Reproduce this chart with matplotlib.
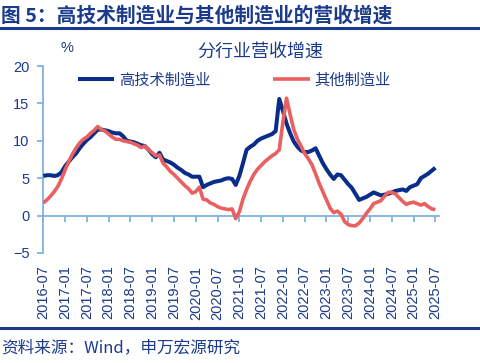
import numpy as np
import pandas as pd
import matplotlib
matplotlib.use("Agg")
import matplotlib.pyplot as plt

plt.rcParams['font.family'] = ['Noto Sans CJK SC', 'DejaVu Sans']

# ---- data ----
months = pd.date_range('2016-07-01', '2025-07-01', freq='MS').strftime('%Y-%m').tolist()

high_tech = [5.3, 5.4, 5.4, 5.3, 5.4, 5.8, 6.6, 7.2, 7.8, 8.3, 9.0, 9.6,
             10.1, 10.5, 11.0, 11.5, 11.5, 11.4, 11.3, 11.1, 11.0, 11.0, 10.6, 10.0,
             9.9, 9.8, 9.6, 9.4, 9.3, 8.8, 8.2, 7.8, 8.4, 7.5, 7.3, 7.1,
             6.8, 6.4, 6.1, 5.7, 5.5, 5.2, 5.2, 5.2, 3.8, 4.1, 4.3, 4.5,
             4.6, 4.7, 4.9, 5.0, 4.9, 4.1, 5.3, 7.0, 8.8, 9.2, 9.5, 10.0,
             10.3, 10.5, 10.7, 10.9, 11.3, 15.6, 14.0, 12.3, 11.0, 9.9, 9.2, 8.7,
             8.5, 8.5, 8.7, 9.0, 8.0, 7.0, 6.2, 5.5, 4.9, 5.5, 5.4, 4.8,
             4.2, 3.7, 2.9, 2.1, 2.3, 2.5, 2.8, 3.1, 2.9, 2.7, 2.8, 2.9,
             3.1, 3.3, 3.4, 3.5, 3.3, 3.8, 4.0, 4.2, 5.0, 5.3, 5.6, 6.0,
             6.4]

other_mfg = [1.7, 2.1, 2.6, 3.2, 3.9, 4.9, 6.1, 7.2, 8.2, 9.0, 9.7, 10.2,
             10.5, 11.0, 11.4, 11.9, 11.5, 11.3, 10.9, 10.5, 10.2, 10.2, 10.0, 9.9,
             9.8, 9.6, 9.4, 9.1, 9.3, 8.8, 8.4, 8.0, 8.1, 7.0, 6.5, 5.9,
             5.5, 5.0, 4.5, 4.0, 3.6, 3.0, 3.2, 3.8, 2.2, 2.1, 1.7, 1.5,
             1.2, 1.0, 0.9, 0.8, 0.9, -0.4, 0.5, 2.2, 3.5, 4.6, 5.5, 6.2,
             6.7, 7.2, 7.6, 8.0, 8.3, 8.8, 12.5, 15.7, 13.5, 11.5, 10.2, 9.3,
             8.3, 7.6, 6.8, 5.6, 4.3, 3.2, 2.1, 1.0, 0.4, 0.6, 0.2, -0.8,
             -1.2, -1.35, -1.35, -1.0, -0.4, 0.3, 0.9, 1.6, 1.8, 2.0, 2.6, 3.1,
             3.1, 2.9, 2.4, 1.9, 1.5, 1.7, 1.8, 1.6, 1.4, 1.6, 1.2, 0.9,
             0.8]

tick_labels = [m for m in months if m.endswith('-01') or m.endswith('-07')]
series_names = ['高技术制造业', '其他制造业']

# ---- style ----
NAVY = '#1B3A8C'
BLUE = '#0A2D8A'
RED = '#E8605F'
SPINE = '#7FB2E2'

fig = plt.figure(figsize=(4.81, 3.63), dpi=100)
W, H = 481, 363

# figure decorations
fig.text(1 / W, 1 - 16 / H, '图 5：高技术制造业与其他制造业的营收增速', fontsize=14.2,
         fontweight='bold', color=NAVY, va='center', ha='left')
fig.add_artist(plt.Line2D([0, 1], [1 - 28 / H, 1 - 28 / H], color=NAVY, lw=2.2))
fig.add_artist(plt.Line2D([0, 1], [1 - 328 / H, 1 - 328 / H], color=NAVY, lw=2.2))
fig.text(1 / W, 1 - 348 / H, '资料来源：Wind，申万宏源研究', fontsize=12,
         color=NAVY, va='center', ha='left')

left, right = 43.3, 439.0
top, bottom = 66.0, 253.0
ax = fig.add_axes([left / W, 1 - bottom / H, (right - left) / W, (bottom - top) / H])

x = np.arange(len(months))
l1, = ax.plot(x, high_tech, color=BLUE, lw=2.9, solid_capstyle='butt', zorder=3)
l2, = ax.plot(x, other_mfg, color=RED, lw=2.6, solid_capstyle='butt', zorder=4)

ax.set_xlim(0, len(months))
ax.set_ylim(-5, 20)
ax.set_yticks([-5, 0, 5, 10, 15, 20])

for s in ['top', 'right']:
    ax.spines[s].set_visible(False)
ax.spines['left'].set_color(SPINE)
ax.spines['left'].set_linewidth(1.3)
ax.spines['bottom'].set_position(('data', 0))
ax.spines['bottom'].set_color(SPINE)
ax.spines['bottom'].set_linewidth(1.3)

tick_pos = [months.index(t) for t in tick_labels]
ax.set_xticks(tick_pos)
ax.tick_params(axis='x', direction='out', length=4, width=1.3, color=SPINE,
               labelbottom=False)
ax.tick_params(axis='y', direction='out', length=4, width=1.3, color=SPINE,
               labelcolor=NAVY, labelsize=10.5, pad=6)
for lab in ax.get_yticklabels():
    lab.set_fontfamily(['Liberation Sans', 'DejaVu Sans'])

sec = ax.secondary_xaxis('bottom')
sec.set_xticks(tick_pos)
sec.set_xticklabels(tick_labels, rotation=90, fontsize=10.5, color=NAVY,
                    family=['Liberation Sans', 'DejaVu Sans'])
sec.tick_params(length=0, pad=9)
sec.spines['bottom'].set_visible(False)

ax.set_facecolor('none')

fig.text(67 / W, 1 - 48 / H, '%', fontsize=10.5, color=NAVY, ha='center', va='center',
         family=['Liberation Sans', 'DejaVu Sans'])
fig.text(260 / W, 1 - 52 / H, '分行业营收增速', fontsize=13, color=NAVY,
         ha='center', va='center')

ax.legend([l1, l2], series_names, loc='center left', ncol=2,
          bbox_to_anchor=(70 / W, 1 - 80 / H), bbox_transform=fig.transFigure,
          frameon=False, borderpad=0, handlelength=2.4, handletextpad=0.3,
          columnspacing=4.1, prop={'size': 11}, labelcolor=NAVY)

fig.savefig('out.png', dpi=100)
